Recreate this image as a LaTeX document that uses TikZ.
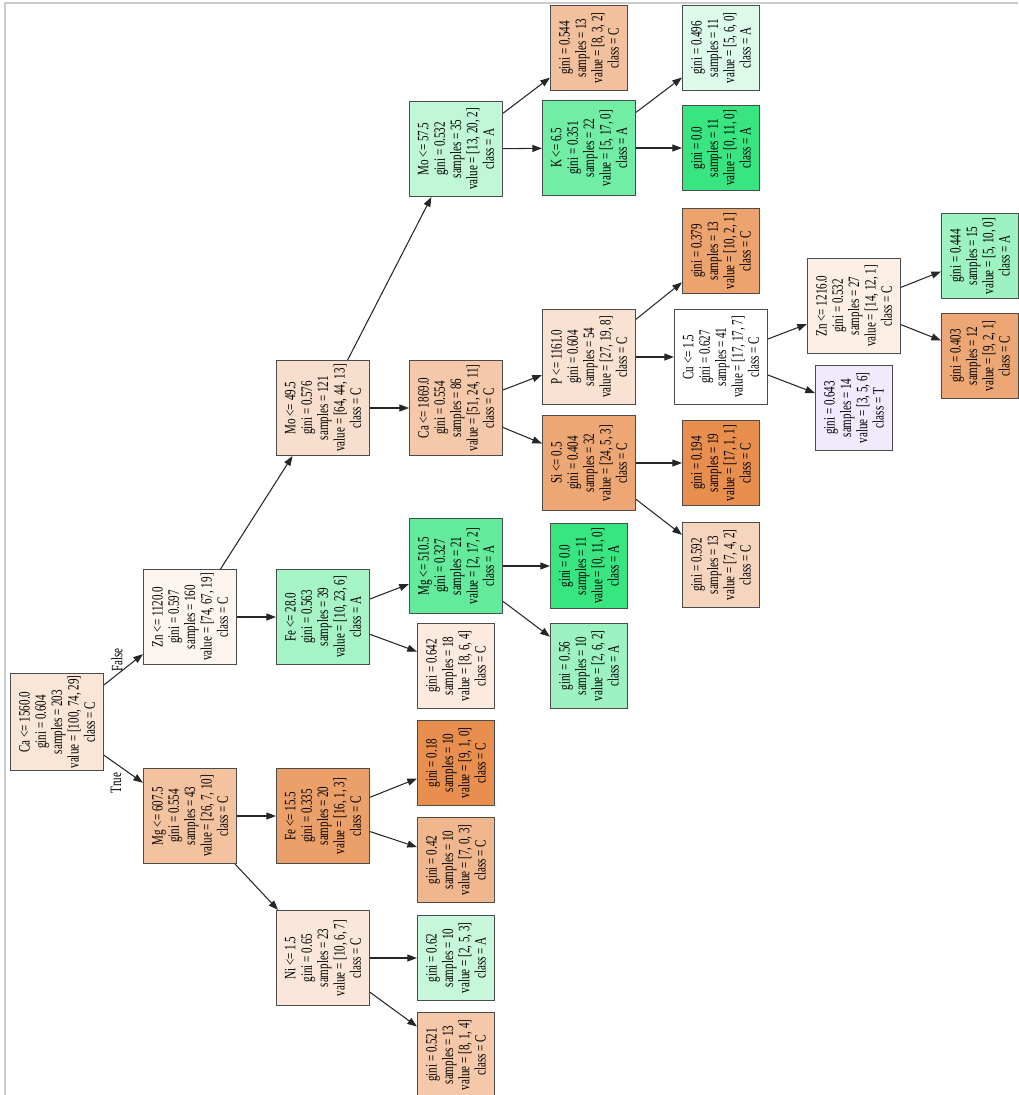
\documentclass[tikz,border=0pt]{standalone}
\usepackage{fontspec}
\newfontfamily\treefont[FakeStretch=0.7]{Liberation Serif}
\definecolor{classC}{RGB}{229,129,57}
\definecolor{classA}{RGB}{57,229,129}
\definecolor{classT}{RGB}{129,57,229}
\usetikzlibrary{arrows.meta}

\begin{document}
\begin{tikzpicture}[x=0.02cm, y=-0.02cm,
    split/.style={draw=black!70, line width=0.6pt, rotate=90, align=center,
        font=\treefont\fontsize{9}{9.3}\selectfont, inner sep=1pt,
        minimum width=1.9cm, minimum height=1.86cm},
    leaf/.style={split, minimum width=1.7cm, minimum height=1.54cm},
    arr/.style={-{Triangle[length=5.5pt, width=4pt]}, line width=0.6pt, black!85},
    lbl/.style={rotate=90, font=\treefont\fontsize{9}{9.3}\selectfont}]
    \useasboundingbox (0,0) rectangle (1018,1095);
    % frame of the sheet
    \draw[black!20, line width=0.8pt] (5,1095) -- (5,3) -- (1018,3);

    % depth 0 and 1
    \node[split, fill=classC!20] (root) at (57,722) {Ca <= 1560.0\\gini = 0.604\\samples = 203\\value = [100, 74, 29]\\class = C};
    \node[split, fill=classC!48] (mgA) at (190,816) {Mg <= 607.5\\gini = 0.554\\samples = 43\\value = [26, 7, 10]\\class = C};
    \node[split, fill=classC!8] (znA) at (190,617) {Zn <= 1120.0\\gini = 0.597\\samples = 160\\value = [74, 67, 19]\\class = C};

    % depth 2
    \node[split, fill=classC!76] (feB) at (323,816) {Fe <= 15.5\\gini = 0.335\\samples = 20\\value = [16, 1, 3]\\class = C};
    \node[split, fill=classC!19] (niA) at (323,958) {Ni <= 1.5\\gini = 0.65\\samples = 23\\value = [10, 6, 7]\\class = C};
    \node[split, fill=classA!45] (feA) at (323,617) {Fe <= 28.0\\gini = 0.563\\samples = 39\\value = [10, 23, 6]\\class = A};
    \node[split, fill=classC!26] (moA) at (323,408) {Mo <= 49.5\\gini = 0.576\\samples = 121\\value = [64, 44, 13]\\class = C};

    % depth 3
    \node[leaf, fill=classC!89] (lf18) at (456,763) {gini = 0.18\\samples = 10\\value = [9, 1, 0]\\class = C};
    \node[leaf, fill=classC!57] (lf42) at (456,860) {gini = 0.42\\samples = 10\\value = [7, 0, 3]\\class = C};
    \node[leaf, fill=classA!29] (lf62) at (456,958) {gini = 0.62\\samples = 10\\value = [2, 5, 3]\\class = A};
    \node[leaf, fill=classC!44] (lf521) at (456,1055) {gini = 0.521\\samples = 13\\value = [8, 1, 4]\\class = C};
    \node[split, fill=classA!79] (mgB) at (456,566) {Mg <= 510.5\\gini = 0.327\\samples = 21\\value = [2, 17, 2]\\class = A};
    \node[leaf, fill=classC!17] (lf642) at (456,666) {gini = 0.642\\samples = 18\\value = [8, 6, 4]\\class = C};
    \node[split, fill=classC!44] (caB) at (456,408) {Ca <= 1869.0\\gini = 0.554\\samples = 86\\value = [51, 24, 11]\\class = C};
    \node[split, fill=classA!32] (moB) at (456,149) {Mo <= 57.5\\gini = 0.532\\samples = 35\\value = [13, 20, 2]\\class = A};

    % depth 4
    \node[leaf, fill=classA] (lf00b) at (589,566) {gini = 0.0\\samples = 11\\value = [0, 11, 0]\\class = A};
    \node[leaf, fill=classA!50] (lf56) at (589,666) {gini = 0.56\\samples = 10\\value = [2, 6, 2]\\class = A};
    \node[leaf, fill=classC!50] (lf544) at (589,48) {gini = 0.544\\samples = 13\\value = [8, 3, 2]\\class = C};
    \node[split, fill=classA!71] (kA) at (589,148) {K <= 6.5\\gini = 0.351\\samples = 22\\value = [5, 17, 0]\\class = A};
    \node[split, fill=classC!23] (pA) at (589,357) {P <= 1161.0\\gini = 0.604\\samples = 54\\value = [27, 19, 8]\\class = C};
    \node[split, fill=classC!70] (siA) at (589,463) {Si <= 0.5\\gini = 0.404\\samples = 32\\value = [24, 5, 3]\\class = C};

    % depth 5
    \node[leaf, fill=classA!17] (lf496) at (721,48) {gini = 0.496\\samples = 11\\value = [5, 6, 0]\\class = A};
    \node[leaf, fill=classA] (lf00a) at (721,148) {gini = 0.0\\samples = 11\\value = [0, 11, 0]\\class = A};
    \node[leaf, fill=classC!73] (lf379) at (721,251) {gini = 0.379\\samples = 13\\value = [10, 2, 1]\\class = C};
    \node[split, fill=white] (cuA) at (721,357) {Cu <= 1.5\\gini = 0.627\\samples = 41\\value = [17, 17, 7]\\class = C};
    \node[leaf, fill=classC!89] (lf194) at (721,463) {gini = 0.194\\samples = 19\\value = [17, 1, 1]\\class = C};
    \node[leaf, fill=classC!33] (lf592) at (721,565) {gini = 0.592\\samples = 13\\value = [7, 4, 2]\\class = C};

    % depth 6 and 7
    \node[split, fill=classC!13] (znB) at (854,306) {Zn <= 1216.0\\gini = 0.532\\samples = 27\\value = [14, 12, 1]\\class = C};
    \node[leaf, fill=classT!11] (lf643) at (854,408) {gini = 0.643\\samples = 14\\value = [3, 5, 6]\\class = T};
    \node[leaf, fill=classA!50] (lf444) at (980,256) {gini = 0.444\\samples = 15\\value = [5, 10, 0]\\class = A};
    \node[leaf, fill=classC!70] (lf403) at (980,356) {gini = 0.403\\samples = 12\\value = [9, 2, 1]\\class = C};

    % edges
    \foreach \a/\b in {root/mgA, root/znA, mgA/feB, mgA/niA, feB/lf18, feB/lf42,
        niA/lf62, niA/lf521, znA/feA, znA/moA, feA/mgB, feA/lf642, mgB/lf00b,
        mgB/lf56, moA/caB, moA/moB, moB/lf544, moB/kA, kA/lf496, kA/lf00a,
        caB/pA, caB/siA, pA/lf379, pA/cuA, siA/lf194, siA/lf592, cuA/znB,
        cuA/lf643, znB/lf444, znB/lf403}
        \draw[arr] (\a) -- (\b);

    \node[lbl] (yes) at (116,783) {True};
    \node[lbl] (no) at (117,660) {False};
\end{tikzpicture}
\end{document}
